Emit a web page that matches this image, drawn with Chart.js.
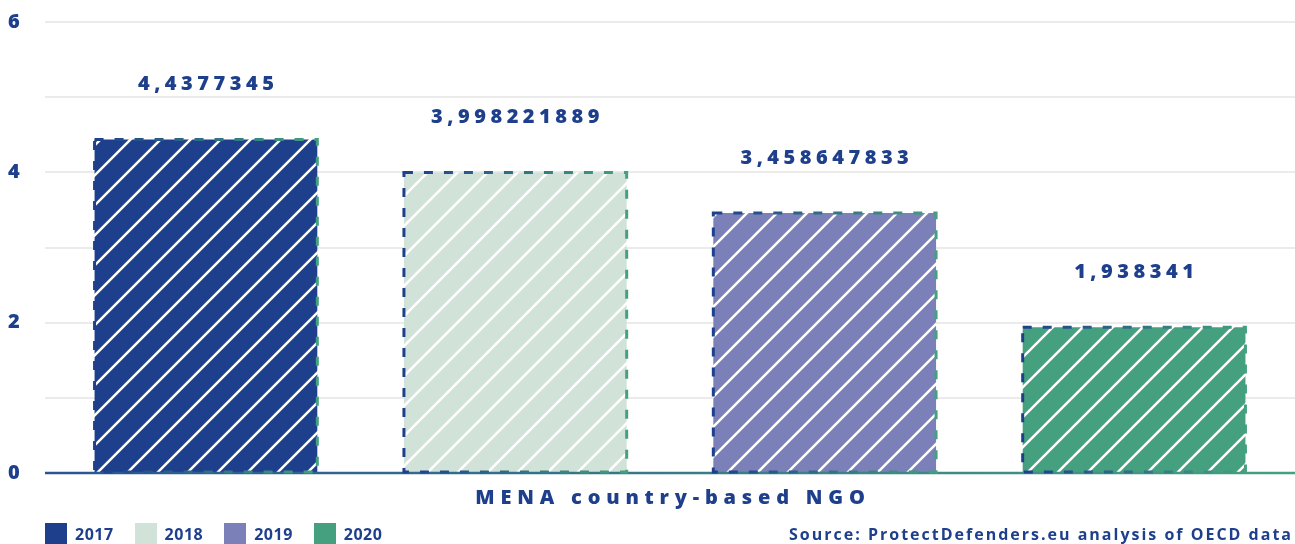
<!DOCTYPE html>
<html lang="en">
<head>
    <meta charset="UTF-8">
    <title>MENA country-based NGO</title>
    <script src="https://cdn.jsdelivr.net/npm/chart.js"></script>
    <style>
        html, body { margin: 0; padding: 0; background: #fff; }
        #wrap { position: relative; width: 1295px; height: 544px; overflow: hidden; }
        #legend { position: absolute; left: 45px; top: 523px; display: flex; }
        .item { display: flex; align-items: center; margin-right: 21px; font: 700 16px 'Open Sans'; color: #1e3f8c; line-height: 22px; letter-spacing: 0.5px; }
        .box { width: 22px; height: 22px; margin-right: 8px; }
        #source { position: absolute; right: 2px; top: 523px; font: 700 16px 'Open Sans'; color: #1e3f8c; letter-spacing: 2px; line-height: 22px; }
    </style>
</head>
<body>
<div id="wrap">
    <canvas id="chart" width="1295" height="544"></canvas>
    <div id="legend"></div>
    <div id="source">Source: ProtectDefenders.eu analysis of OECD data</div>
</div>
<script>
    // chart data
    const categories = ['MENA country-based NGO'];
    const years = ['2017', '2018', '2019', '2020'];
    const values = [4.4377345, 3.998221889, 3.458647833, 1.938341];
    const colors = ['#1e3f8c', '#d1e2d8', '#7b80b8', '#44a07e'];
    const yTicks = [0, 2, 4, 6];

    const navy = '#1e3f8c';
    const green = '#44a07e';

    // hatched fill: white "/" lines over the series colour
    function hatch(color) {
        const c = document.createElement('canvas');
        c.width = 30; c.height = 30;
        const g = c.getContext('2d');
        g.fillStyle = color;
        g.fillRect(0, 0, 30, 30);
        g.strokeStyle = '#fff';
        g.lineWidth = 2.5;
        g.beginPath();
        g.moveTo(-2, 32); g.lineTo(32, -2);
        g.moveTo(-2, 2); g.lineTo(2, -2);
        g.moveTo(28, 32); g.lineTo(32, 28);
        g.stroke();
        return g.createPattern(c, 'repeat');
    }

    const barExtras = {
        id: 'barExtras',
        afterDatasetsDraw(chart) {
            const ctx = chart.ctx;
            const area = chart.chartArea;
            const y0 = chart.scales.y.getPixelForValue(0);

            // axis line
            ctx.save();
            let grad = ctx.createLinearGradient(area.left, 0, area.right, 0);
            grad.addColorStop(0, '#2a5494');
            grad.addColorStop(1, green);
            ctx.strokeStyle = grad;
            ctx.lineWidth = 2.5;
            ctx.beginPath();
            ctx.moveTo(area.left, y0);
            ctx.lineTo(area.right, y0);
            ctx.stroke();

            chart.data.datasets.forEach((ds, i) => {
                const bar = chart.getDatasetMeta(i).data[0];
                const left = bar.x - bar.width / 2;
                const right = bar.x + bar.width / 2;

                // dashed gradient border
                const g = ctx.createLinearGradient(left, 0, right, 0);
                g.addColorStop(0, navy);
                g.addColorStop(1, green);
                ctx.strokeStyle = g;
                ctx.lineWidth = 3;
                ctx.setLineDash([9, 11]);
                ctx.strokeRect(left, bar.y, bar.width, bar.base - bar.y);
                ctx.setLineDash([]);

                // value label
                const txt = String(ds.data[0]).replace('.', ',');
                ctx.font = '800 20px "Open Sans"';
                ctx.letterSpacing = '4.5px';
                ctx.fillStyle = navy;
                ctx.textAlign = 'center';
                ctx.textBaseline = 'middle';
                ctx.fillText(txt, bar.x + 2.2, bar.y - 55);
            });

            // x axis title
            ctx.font = '800 20px "Open Sans"';
            ctx.letterSpacing = '5.8px';
            ctx.fillStyle = navy;
            ctx.textAlign = 'center';
            ctx.textBaseline = 'middle';
            ctx.fillText(categories[0], (area.left + area.right) / 2 + 3, 498);
            ctx.restore();
        }
    };

    Chart.defaults.font.family = 'Open Sans';

    new Chart(document.getElementById('chart'), {
        type: 'bar',
        data: {
            labels: categories,
            datasets: years.map((yr, i) => ({
                label: yr,
                data: [values[i]],
                backgroundColor: hatch(colors[i]),
                borderWidth: 0,
                categoryPercentage: 0.99,
                barPercentage: 0.72
            }))
        },
        options: {
            responsive: false,
            animation: false,
            layout: { padding: { top: 22, bottom: 71, left: 8, right: 0 } },
            plugins: {
                legend: { display: false },
                tooltip: { enabled: false }
            },
            scales: {
                x: { display: false },
                y: {
                    min: 0,
                    max: 6,
                    afterFit(scale) { scale.width = 37; },
                    border: { display: false },
                    grid: { color: '#ebebeb', lineWidth: 2, drawTicks: false },
                    ticks: {
                        stepSize: 1,
                        padding: 0,
                        crossAlign: 'far',
                        color: navy,
                        font: { size: 20, weight: '800' },
                        callback: v => yTicks.includes(v) ? v : ''
                    }
                }
            }
        },
        plugins: [barExtras]
    });

    // legend
    const legend = document.getElementById('legend');
    years.forEach((yr, i) => {
        const item = document.createElement('div');
        item.className = 'item';
        item.innerHTML = '<span class="box" style="background:' + colors[i] + '"></span>' + yr;
        legend.appendChild(item);
    });
</script>
</body>
</html>
